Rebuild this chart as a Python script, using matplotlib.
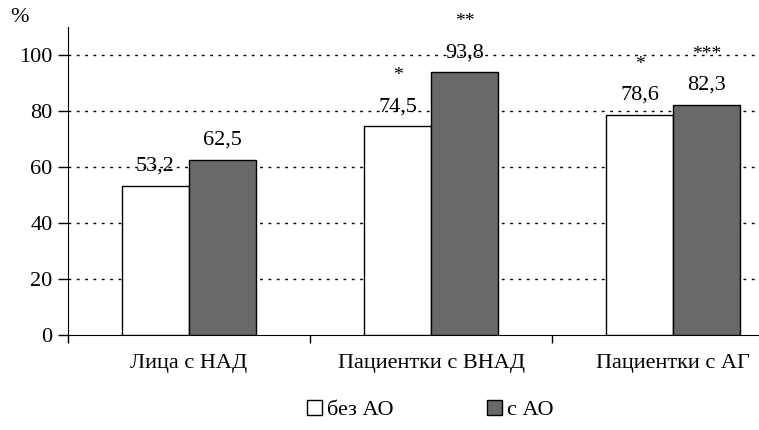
import numpy as np
import matplotlib.pyplot as plt

plt.rcParams['font.family'] = ['Liberation Serif', 'DejaVu Serif']

# данные
groups = ['Лица с НАД', 'Пациентки с ВНАД', 'Пациентки с АГ']
no_ao = [53.2, 74.5, 78.6]
with_ao = [62.5, 93.8, 82.3]
marks_no_ao = ['', '*', '*']
marks_with_ao = ['', '**', '***']
legend_labels = ['без АО', 'с АО']

fs = 16

fig = plt.figure(figsize=(7.59, 4.30), dpi=100)
ax = fig.add_axes([68 / 759, 1 - 335 / 430, 726 / 759, 308 / 430])

x = np.arange(len(groups))
w = 0.277
b1 = ax.bar(x - w / 2, no_ao, w, color='white', edgecolor='black', linewidth=1, label=legend_labels[0], zorder=3)
b2 = ax.bar(x + w / 2, with_ao, w, color='#696969', edgecolor='black', linewidth=1, label=legend_labels[1], zorder=3)

def fmt(v):
    return f'{v:.1f}'.replace('.', ',')

for bars, vals, marks in [(b1, no_ao, marks_no_ao), (b2, with_ao, marks_with_ao)]:
    for rect, v, m in zip(bars, vals, marks):
        cx = rect.get_x() + rect.get_width() / 2
        ax.text(cx, v + 7, fmt(v), ha='center', va='center', fontsize=fs, zorder=4)
        if m:
            ax.text(cx, v + 18, m, ha='center', va='center', fontsize=fs - 2, zorder=4)

ax.set_xlim(-0.5, 2.5)
ax.set_ylim(0, 110)
ax.set_yticks(np.arange(0, 101, 20))
ax.tick_params(axis='y', labelsize=fs, direction='out', length=7, width=1, pad=4)
for yv in range(20, 101, 20):
    ax.axhline(yv, color='black', linestyle=(0, (2, 4)), linewidth=1, zorder=1)

ax.set_xticks([-0.5, 0.5, 1.5, 2.5])
ax.set_xticklabels([])
ax.set_xticks(x, minor=True)
ax.set_xticklabels(groups, minor=True, fontsize=fs)
ax.tick_params(axis='x', which='major', direction='out', length=6, width=1)
ax.tick_params(axis='x', which='minor', length=0, pad=14)

ax.spines['top'].set_visible(False)
ax.spines['right'].set_visible(False)

fig.text(10 / 759, 1 - 18 / 430, '%', fontsize=fs, va='center')

fig.legend(loc='center', bbox_to_anchor=(430 / 759, 1 - 410 / 430), ncol=2, frameon=False,
           fontsize=fs, handlelength=0.7, handleheight=0.7, handletextpad=0.2, columnspacing=4.2)

fig.savefig('out.png', dpi=100)
